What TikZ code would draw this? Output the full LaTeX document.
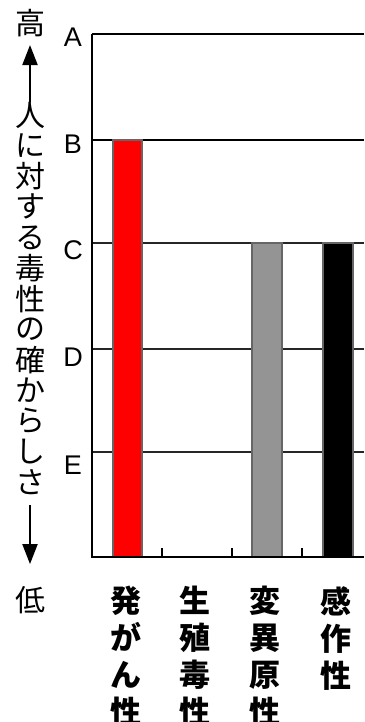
\documentclass[tikz,border=0pt]{standalone}
\usepackage{fontspec}
\setmainfont{Liberation Sans}
\newfontfamily\jp{Noto Sans CJK JP}
\usetikzlibrary{arrows.meta, positioning}

\begin{document}
\begin{tikzpicture}[
        x=1pt, y=-1pt,
        every node/.style={inner sep=0pt},
        level/.style={font=\fontsize{27}{27}\selectfont},
        vchar/.style={font=\jp\fontsize{30}{30}\selectfont},
        category/.style={font=\jp\bfseries\fontsize{31}{37}\selectfont, align=center, anchor=north},
        gridline/.style={line width=1.6pt, draw=black!85},
        bar/.style={draw=black!60, line width=1.3pt},
        arrow/.style={line width=2pt, -{Triangle[length=20pt, width=15pt]}}
    ]
    \useasboundingbox (0,0) rectangle (364,722);

    % Grid
    \foreach \y in {243, 349, 452} {
        \draw[gridline] (92,\y) -- (364,\y);
    }
    \draw[line width=2pt] (92,34) -- (364,34);
    \draw[line width=2pt] (92,140) -- (364,140);

    % Bars
    \filldraw[bar, fill=red] (113,140) rectangle (142,557);
    \filldraw[bar, fill=black!42] (252,243) rectangle (282,557);
    \filldraw[bar, fill=black] (323,243) rectangle (353,557);

    % Axes
    \draw[line width=2pt] (92,34) -- (92,557) -- (364,557);
    \foreach \x in {162, 232, 302} {
        \draw[line width=1.5pt] (\x,557) -- (\x,548);
    }

    % Levels
    \foreach \lv/\y in {A/37.5, B/144, C/250, D/357, E/465} {
        \node[level] (lab\lv) at (73,\y) {\lv};
    }

    % Vertical axis text
    \node[vchar] (high) at (30,23) {高};
    \foreach \c [count=\i] in {人,に,対,す,る,毒,性,の,確,か,ら,し,さ} {
        \node[vchar] (v\i) at (30,{115+30.6*(\i-1)}) {\c};
    }
    \node[vchar] (low) at (30,600) {低};
    \draw[arrow, shorten >=8pt] (v1.north) -- (high.south);
    \draw[arrow, shorten <=10pt, shorten >=22pt] (v13.south) -- (low.north);

    % Categories
    \node[category] (carc) at (126,586) {発\\が\\ん\\性};
    \node[category] (repro) at (195,586) {生\\殖\\毒\\性};
    \node[category] (mutag) at (265,586) {変\\異\\原\\性};
    \node[category] (sens) at (336,586) {感\\作\\性};
\end{tikzpicture}
\end{document}
